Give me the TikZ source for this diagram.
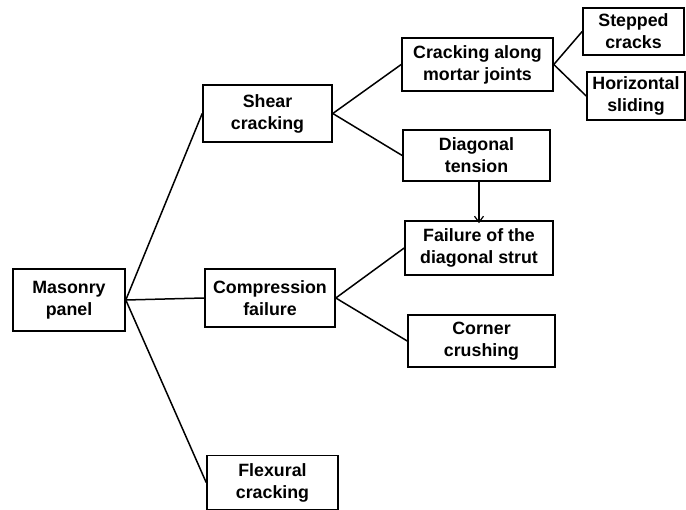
\documentclass[tikz,border=0pt]{standalone}
\usepackage{fontspec}
\setmainfont{Liberation Sans}
\usetikzlibrary{arrows.meta}
\begin{document}
\begin{tikzpicture}[x=1pt,y=-1pt,
  box/.style={draw=black,line width=1.6pt,rectangle,inner sep=0pt,align=center,
    font=\bfseries\fontsize{17.8}{22}\selectfont},
  link/.style={line width=1.5pt},
  flow/.style={line width=1.2pt,-{Straight Barb[length=6pt,width=9pt,line width=1.2pt]}}]
\useasboundingbox (0,0) rectangle (686,510);
% boxes: centre, then size
\node[box,minimum width=112pt,minimum height=62pt] (mp) at (69,300) {Masonry\\panel};
\node[box,minimum width=129pt,minimum height=57pt] (shear) at (267.5,113.5) {Shear\\cracking};
\node[box,minimum width=130pt,minimum height=58pt] (comp) at (270,298) {Compression\\failure};
\node[box,minimum width=131pt,minimum height=54pt] (flex) at (272.5,482.5) {Flexural\\cracking};
\node[box,minimum width=151pt,minimum height=53pt] (along) at (477.5,64.5) {Cracking along\\mortar joints};
\node[box,minimum width=147pt,minimum height=51pt] (diag) at (476.5,155.5) {Diagonal\\tension};
\node[box,minimum width=148pt,minimum height=54pt] (strut) at (479,248) {Failure of the\\diagonal strut};
\node[box,minimum width=147pt,minimum height=52pt] (corner) at (481.5,341) {Corner\\crushing};
\node[box,minimum width=101pt,minimum height=47pt] (stepped) at (633.5,31.5) {Stepped\\cracks};
\node[box,minimum width=98pt,minimum height=48pt] (horiz) at (636,96) {Horizontal\\sliding};
% tree connectors
\draw[link] (mp.east) -- (shear.west);
\draw[link] (mp.east) -- (comp.west);
\draw[link] (mp.east) -- (flex.west);
\draw[link] (shear.east) -- (along.west);
\draw[link] (shear.east) -- (diag.west);
\draw[link] (along.east) -- (stepped.west);
\draw[link] (along.east) -- (horiz.west);
\draw[link] (comp.east) -- (strut.west);
\draw[link] (comp.east) -- (corner.west);
% diagonal tension leads to strut failure
\coordinate (tip) at ([yshift=-3pt]strut.north);
\draw[flow] (strut.north |- diag.south) -- (tip);
\end{tikzpicture}
\end{document}
